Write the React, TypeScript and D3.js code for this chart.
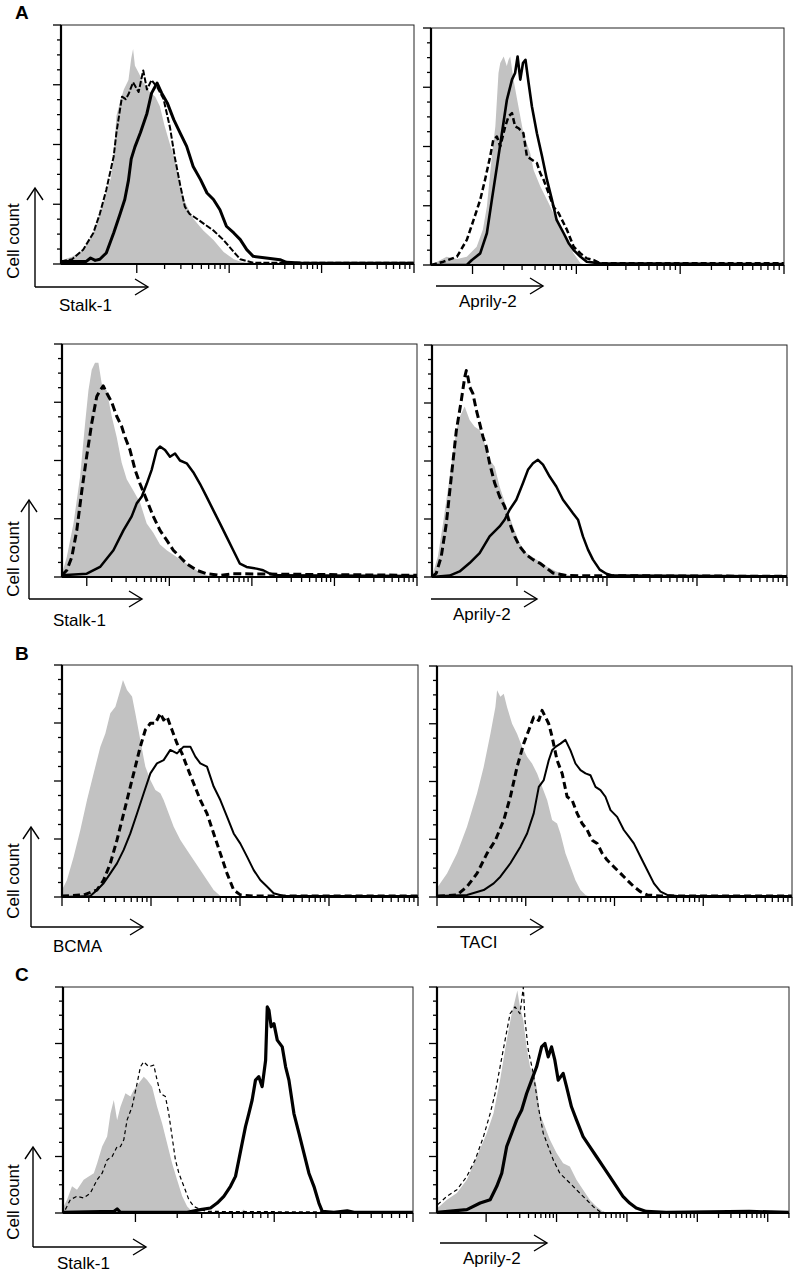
import React from "react";
import * as d3 from "d3";

type Pt = [number, number];
// Each point: [log10 fluorescence intensity, cell count as % of axis max]

// ---- Panel A, row 1 ----
const a1StalkGray: Pt[] = [[0.18,1.5],[0.3,3],[0.42,6],[0.53,13],[0.6,21],[0.67,30],[0.72,36],[0.75,45],[0.78,62],[0.82,68],[0.86,73],[0.91,77],[0.94,86],[0.96,90],[0.98,83],[1.02,80],[1.07,76],[1.14,72],[1.2,70],[1.25,66],[1.3,58],[1.36,50],[1.41,44],[1.47,33],[1.52,26],[1.61,19],[1.72,14],[1.83,10],[1.94,5],[2.05,2],[2.12,1],[2.26,0]];
const a1StalkDashed: Pt[] = [[0.18,1],[0.3,2],[0.42,6],[0.53,13],[0.6,21],[0.67,31],[0.75,45],[0.78,55],[0.84,70],[0.88,69],[0.91,71],[0.96,76],[1.02,72],[1.07,81],[1.11,73],[1.16,77],[1.22,74],[1.29,69],[1.36,57],[1.41,45],[1.47,33],[1.52,24],[1.57,21],[1.61,20],[1.72,17],[1.83,14],[1.94,10],[2.05,5],[2.12,2],[2.26,0.5],[4,0.5]];
const a1StalkSolid: Pt[] = [[0.18,1],[0.45,1],[0.5,2.5],[0.55,1.5],[0.6,2],[0.67,4.6],[0.75,13],[0.82,21],[0.87,27],[0.91,35],[0.94,44],[0.98,49],[1.04,55],[1.11,63],[1.16,71.5],[1.22,75.7],[1.27,71.5],[1.33,67.4],[1.4,60.4],[1.47,54.8],[1.54,49.2],[1.61,40.8],[1.69,35.3],[1.76,29.7],[1.83,27],[1.9,22.7],[1.97,15.8],[2.05,13],[2.12,10.2],[2.19,6],[2.26,3.2],[2.4,2.5],[2.55,1.8],[2.62,0.7],[2.77,0.4],[4,0.3]];

const a1AprilyGray: Pt[] = [[0.6,0],[0.75,3.5],[0.85,2.5],[0.945,3.5],[1.04,7.7],[1.1,15],[1.138,24.6],[1.186,45.8],[1.22,58.5],[1.25,81],[1.267,85.2],[1.3,88],[1.33,84],[1.347,86.6],[1.363,88],[1.395,78.2],[1.43,69.7],[1.46,62.7],[1.49,55.6],[1.556,47.2],[1.588,40.1],[1.653,33.1],[1.717,27.5],[1.78,21.8],[1.846,16],[1.91,10.6],[1.974,4.9],[2.04,0.7],[2.1,0]];
const a1AprilyDashed: Pt[] = [[0.6,0],[0.72,1.4],[0.85,3.5],[0.945,10.6],[1.01,19],[1.074,27.5],[1.12,35.9],[1.17,45.8],[1.2,52.8],[1.235,54.2],[1.267,50],[1.315,58.5],[1.347,62.7],[1.38,64.1],[1.41,58.5],[1.444,57.7],[1.49,55.6],[1.524,45.8],[1.572,44.4],[1.62,43],[1.653,38.7],[1.685,35.9],[1.733,30.3],[1.78,24.6],[1.83,21.8],[1.878,17.6],[1.91,14.8],[1.974,7.7],[2.04,4.9],[2.1,2.8],[2.167,2.1],[2.23,0.7],[4,0.7]];
const a1AprilySolid: Pt[] = [[0.6,0],[0.945,0],[0.994,2.1],[1.074,4.9],[1.138,13.4],[1.186,27.5],[1.235,41.5],[1.283,55.6],[1.331,69.7],[1.38,78.2],[1.41,81],[1.434,88],[1.46,78.2],[1.486,85.2],[1.51,86.6],[1.54,76.8],[1.572,66.9],[1.62,55.6],[1.67,45.8],[1.717,35.9],[1.765,27.5],[1.81,19],[1.878,13.4],[1.926,9.2],[1.974,6.3],[2.04,3.5],[2.1,1.4],[2.23,0.7],[4,0.4]];

// ---- Panel A, row 2 ----
const a2StalkGray: Pt[] = [[-0.3,1.4],[-0.242,8.6],[-0.161,23],[-0.081,43],[-0.02,66],[0.02,80],[0.06,89],[0.1,92],[0.141,92],[0.181,83],[0.242,80],[0.302,69],[0.363,60],[0.423,49],[0.484,42],[0.565,37],[0.645,32],[0.726,23],[0.806,19],[0.887,14],[0.968,11.5],[1.089,8.6],[1.21,5.7],[1.33,2.9],[1.452,0.7],[1.573,0]];
const a2StalkDashed: Pt[] = [[-0.302,0.7],[-0.242,2.9],[-0.181,8.6],[-0.121,20],[-0.06,37],[0,52],[0.06,66],[0.121,77.5],[0.161,80],[0.2,82],[0.242,79],[0.302,75],[0.363,69],[0.423,64.6],[0.464,60],[0.524,54.5],[0.585,46],[0.645,40],[0.726,33],[0.806,26],[0.887,20],[0.968,15.8],[1.048,11.5],[1.129,8.6],[1.21,5.7],[1.33,2.9],[1.452,1.4],[1.613,0.7],[1.774,1.4],[4,0.7]];
const a2StalkSolid: Pt[] = [[-0.3,0.7],[0,1.4],[0.161,4.3],[0.323,11.5],[0.444,20],[0.544,26],[0.605,31.6],[0.665,34.4],[0.726,40],[0.786,46],[0.847,54.5],[0.887,56],[0.948,54.5],[1.008,51.6],[1.069,53],[1.129,50],[1.21,48.8],[1.29,45],[1.371,40],[1.452,34.4],[1.532,28.7],[1.613,23],[1.694,17.2],[1.774,11.5],[1.855,5.7],[1.935,4.3],[2.056,3.6],[2.137,2.9],[2.218,1.4],[2.298,0.7],[4,0.4]];

const a2AprilyGray: Pt[] = [[0.067,1.7],[0.122,8.9],[0.178,23],[0.252,43],[0.326,63],[0.363,69],[0.419,73.5],[0.474,67.7],[0.53,64.8],[0.585,63.4],[0.641,57.7],[0.696,50.5],[0.752,47.6],[0.807,39],[0.881,30.4],[0.956,21.8],[1.03,14.6],[1.104,10.3],[1.215,7.5],[1.326,4.6],[1.437,2.4],[1.548,1],[1.696,0.3],[1.77,0]];
const a2AprilyDashed: Pt[] = [[0.056,0],[0.104,1.7],[0.159,8.9],[0.215,23],[0.27,43],[0.326,63],[0.381,76],[0.419,86],[0.437,89],[0.456,86],[0.474,82],[0.511,79],[0.548,72],[0.585,66.3],[0.622,60.5],[0.659,56.2],[0.696,49],[0.752,40.5],[0.807,34.7],[0.863,30.4],[0.919,23.2],[0.974,17.5],[1.03,13.2],[1.104,9.6],[1.178,7.5],[1.252,6],[1.326,3.9],[1.4,1.7],[1.548,0.6],[4,0.3]];
const a2AprilySolid: Pt[] = [[0.056,0],[0.252,0.6],[0.363,2.4],[0.474,6],[0.585,10.3],[0.696,17.5],[0.807,21.8],[0.863,24.7],[0.919,29],[0.993,33.3],[1.067,40.5],[1.122,46.2],[1.178,49],[1.233,50.5],[1.289,48.4],[1.363,43.3],[1.437,39],[1.511,33.3],[1.567,30.4],[1.622,27.5],[1.678,24.7],[1.733,17.5],[1.789,11.8],[1.844,7.5],[1.919,3.2],[1.993,1.4],[2.067,0.6],[4,0.3]];

// ---- Panel B ----
const bBcmaGray: Pt[] = [[0,3],[0.056,7.3],[0.131,17.4],[0.206,28.9],[0.281,41.8],[0.356,53.3],[0.431,64.8],[0.487,70.5],[0.543,79.2],[0.6,82],[0.655,89.2],[0.685,93.5],[0.73,89.2],[0.787,86.4],[0.824,79.2],[0.88,67.7],[0.936,56.2],[0.993,50.4],[1.049,46.1],[1.105,44.7],[1.142,41.8],[1.199,36],[1.255,30.3],[1.33,24.6],[1.404,20.3],[1.479,15.9],[1.554,11.6],[1.629,7.3],[1.704,3],[1.779,0.4],[1.854,0]];
const bBcmaDashed: Pt[] = [[0,0.4],[0.243,0.9],[0.393,3],[0.468,7.3],[0.543,14.5],[0.618,24.6],[0.693,36],[0.768,47.6],[0.824,56.2],[0.88,64.8],[0.936,72],[0.993,74.9],[1.049,74.9],[1.105,79.2],[1.142,76.3],[1.18,77.7],[1.236,72],[1.292,66.2],[1.348,61.9],[1.404,56.2],[1.479,49],[1.554,41.8],[1.629,36],[1.704,27.4],[1.779,18.8],[1.854,10.2],[1.929,3],[2.004,0.9],[2.154,0.4],[4,0.4]];
const bBcmaSolid: Pt[] = [[0,0],[0.318,0.4],[0.393,3],[0.468,5.9],[0.543,10.2],[0.618,14.5],[0.693,20.3],[0.768,27.4],[0.843,36],[0.918,44.7],[0.993,53.3],[1.067,57.6],[1.142,59],[1.217,63.4],[1.292,61.9],[1.367,64.8],[1.442,64.8],[1.498,60.5],[1.554,57.6],[1.629,56.2],[1.704,47.6],[1.779,41.8],[1.854,34.6],[1.929,27.4],[2.004,23],[2.079,17.4],[2.154,11.6],[2.228,7.3],[2.303,4.5],[2.378,1.6],[2.49,0.4],[4,0.4]];

const bTaciGray: Pt[] = [[0.011,4.5],[0.113,10.2],[0.226,18.9],[0.338,30.4],[0.451,44.8],[0.526,56.3],[0.602,70.7],[0.658,82.3],[0.677,89.5],[0.714,86.7],[0.752,88],[0.789,82.3],[0.846,75],[0.902,70.7],[0.959,65],[1.015,60.7],[1.071,57.8],[1.128,53.5],[1.184,47.7],[1.241,42],[1.297,33.3],[1.353,31.8],[1.391,27.5],[1.447,18.9],[1.504,13.1],[1.56,7.3],[1.617,3],[1.673,0.9],[1.729,0]];
const bTaciDashed: Pt[] = [[0.011,0.4],[0.226,0.9],[0.338,4.5],[0.451,10.2],[0.564,18.9],[0.658,24.6],[0.752,33.3],[0.827,43.4],[0.902,56.3],[0.977,66.4],[1.034,72.2],[1.09,77.9],[1.147,76.4],[1.184,80.8],[1.222,77.9],[1.259,75],[1.297,69.3],[1.353,59.2],[1.41,53.5],[1.466,43.4],[1.523,41.9],[1.579,36.2],[1.635,31.8],[1.692,29],[1.748,24.6],[1.805,23.2],[1.861,18.9],[1.917,16],[1.992,13.1],[2.068,10.2],[2.143,7.3],[2.218,4.5],[2.293,2.3],[2.368,0.9],[2.519,0.4],[4,0.4]];
const bTaciSolid: Pt[] = [[0.011,0.4],[0.338,0.9],[0.526,3],[0.639,5.9],[0.714,8.8],[0.827,14.6],[0.94,21.8],[1.015,27.5],[1.09,36.2],[1.147,47.7],[1.203,50.6],[1.259,59.2],[1.297,63.5],[1.335,65],[1.391,66.4],[1.447,68],[1.504,63.5],[1.56,57.8],[1.617,54.9],[1.673,53.5],[1.729,52.7],[1.786,47.7],[1.842,46.3],[1.898,43.4],[1.955,37.6],[2.03,34.7],[2.105,29],[2.162,26.1],[2.218,23.2],[2.293,17.4],[2.368,11.7],[2.444,5.9],[2.519,2.3],[2.594,0.9],[2.707,0.4],[4,0.4]];

// ---- Panel C ----
const cStalkGray: Pt[] = [[0.483,2.9],[0.507,5.9],[0.543,11.8],[0.579,10.3],[0.627,14.7],[0.663,16.2],[0.7,17.6],[0.724,22],[0.76,29.4],[0.796,33.8],[0.82,44],[0.844,50],[0.868,41],[0.892,47],[0.928,53],[0.964,51.5],[0.988,54.4],[1.024,57.4],[1.06,60.3],[1.084,58.8],[1.12,55.9],[1.156,47],[1.192,39.7],[1.228,30.9],[1.264,22],[1.3,14.7],[1.337,7.4],[1.373,2.9],[1.409,0.7],[1.445,0],[1.75,0],[1.78,1.5],[1.81,0],[3,0]];
const cStalkDashed: Pt[] = [[0.495,1.5],[0.531,5.9],[0.579,7.4],[0.627,6.6],[0.675,8.8],[0.724,14.7],[0.76,17.6],[0.796,23.5],[0.832,25],[0.868,29.4],[0.892,29.4],[0.916,32.4],[0.94,41.2],[0.976,47],[1.012,57.4],[1.036,64.7],[1.06,66.9],[1.096,64.7],[1.132,65.4],[1.156,58.8],[1.18,53],[1.216,51.5],[1.24,44],[1.264,33.8],[1.288,23.5],[1.313,17.6],[1.349,11.8],[1.385,5.9],[1.421,2.9],[1.469,1.5],[1.517,0.7],[3,0.3]];
const cStalkSolid: Pt[] = [[0.478,0.3],[0.844,0.7],[0.868,1.8],[0.892,0.3],[1.373,0.3],[1.469,1.5],[1.541,2.2],[1.589,4.4],[1.637,7.4],[1.685,11.8],[1.721,16.2],[1.745,23.5],[1.769,30.9],[1.793,38.2],[1.817,44],[1.841,50],[1.865,58.8],[1.889,60.3],[1.913,55.9],[1.938,67.6],[1.95,91.2],[1.962,89.7],[1.978,82.4],[1.998,83.8],[2.022,76.5],[2.058,73.5],[2.082,64.7],[2.106,58.8],[2.142,44],[2.178,35.3],[2.214,26.5],[2.25,17.6],[2.286,11.8],[2.322,4.4],[2.346,0.7],[2.43,0.3],[2.526,1],[2.575,0.3],[3,0.3]];

const cAprilyGray: Pt[] = [[0.311,2.2],[0.443,5.9],[0.585,8.8],[0.726,14.7],[0.868,25],[1.009,35.3],[1.104,44],[1.198,58.8],[1.292,76.5],[1.363,88.2],[1.41,94.1],[1.443,98.5],[1.481,91.2],[1.528,85.3],[1.575,73.5],[1.623,64.7],[1.67,61.8],[1.717,55.9],[1.764,44],[1.835,38.2],[1.906,32.4],[2.0,26.5],[2.094,22],[2.189,20.6],[2.283,14.7],[2.377,10.3],[2.472,5.9],[2.566,2.9],[2.66,0.7],[2.755,0]];
const cAprilyDashed: Pt[] = [[0.311,3.7],[0.443,7.4],[0.585,10.3],[0.726,16.2],[0.844,23.5],[0.962,33.8],[1.057,44],[1.127,52.9],[1.198,64.7],[1.269,76.5],[1.34,88.2],[1.41,91.2],[1.481,88.2],[1.528,100],[1.552,85.3],[1.599,72],[1.67,61.8],[1.741,47],[1.811,35.3],[1.882,29.4],[1.953,23.5],[2.047,17.6],[2.142,14.7],[2.236,11.8],[2.33,8.8],[2.425,5.9],[2.519,2.9],[2.613,0.7],[2.708,0],[5.3,0]];
const cAprilySolid: Pt[] = [[0.302,0.3],[0.726,1.5],[0.915,4.4],[1.057,5.9],[1.151,11.8],[1.222,17.6],[1.292,29.4],[1.363,35.3],[1.434,41.2],[1.505,45.6],[1.575,52.9],[1.646,58.8],[1.717,64.7],[1.788,73.5],[1.835,75],[1.882,69.1],[1.929,73.5],[1.976,67.6],[2.024,58.8],[2.094,61.8],[2.142,55.9],[2.212,47],[2.283,41.2],[2.377,33.8],[2.472,29.4],[2.566,25],[2.66,20.6],[2.755,16.2],[2.849,11.8],[2.943,7.4],[3.038,4.4],[3.132,2.2],[3.274,0.7],[3.557,0.3],[4.736,0.7],[5.3,0.3]];

const panelLetters = ["A", "B", "C"];
const xLabels = ["Stalk-1", "Aprily-2", "Stalk-1", "Aprily-2", "BCMA", "TACI", "Stalk-1", "Aprily-2"];
const yLabel = "Cell count";
const yMax = 100;

const FONT = "'Liberation Sans', Arial, Helvetica, sans-serif";

interface PanelCfg {
  box: [number, number, number, number]; // left, top, right, bottom
  xDomain: [number, number];
  gray: Pt[]; dashed: Pt[]; solid: Pt[];
  dashW: number; dashArr: string; solidW: number;
  label: string; labelX: number; labelY: number;
  arrowY: number; arrowX0: number; arrowX1: number;
  vArrow?: { x: number; tip: number; textY: number };
}

const panels: PanelCfg[] = [
  { box: [61, 25, 414, 264], xDomain: [0.18, 4], gray: a1StalkGray, dashed: a1StalkDashed, solid: a1StalkSolid, dashW: 2, dashArr: "6,2", solidW: 3,
    label: xLabels[0], labelX: 59, labelY: 311, arrowY: 287, arrowX0: 35, arrowX1: 148, vArrow: { x: 35, tip: 188, textY: 241 } },
  { box: [431, 28, 784, 265], xDomain: [0.6, 4], gray: a1AprilyGray, dashed: a1AprilyDashed, solid: a1AprilySolid, dashW: 2.5, dashArr: "6,3", solidW: 2.6,
    label: xLabels[1], labelX: 459, labelY: 307, arrowY: 286, arrowX0: 436, arrowX1: 543 },
  { box: [62, 344, 417, 577], xDomain: [-0.3, 4], gray: a2StalkGray, dashed: a2StalkDashed, solid: a2StalkSolid, dashW: 3, dashArr: "8,4", solidW: 2.5,
    label: xLabels[2], labelX: 53, labelY: 626, arrowY: 599, arrowX0: 29, arrowX1: 142, vArrow: { x: 29, tip: 500, textY: 559 } },
  { box: [432, 345, 787, 577], xDomain: [0.056, 4], gray: a2AprilyGray, dashed: a2AprilyDashed, solid: a2AprilySolid, dashW: 3, dashArr: "8,4", solidW: 2.5,
    label: xLabels[3], labelX: 453, labelY: 620, arrowY: 599, arrowX0: 431, arrowX1: 537 },
  { box: [62, 665, 418, 897], xDomain: [0, 4], gray: bBcmaGray, dashed: bBcmaDashed, solid: bBcmaSolid, dashW: 3, dashArr: "7,4", solidW: 2,
    label: xLabels[4], labelX: 53, labelY: 952, arrowY: 927, arrowX0: 31, arrowX1: 143, vArrow: { x: 31, tip: 827, textY: 881 } },
  { box: [437, 666, 792, 897], xDomain: [0, 4], gray: bTaciGray, dashed: bTaciDashed, solid: bTaciSolid, dashW: 3, dashArr: "7,4", solidW: 2,
    label: xLabels[5], labelX: 460, labelY: 948, arrowY: 927, arrowX0: 437, arrowX1: 543 },
  { box: [63, 987, 413, 1213], xDomain: [0.478, 3], gray: cStalkGray, dashed: cStalkDashed, solid: cStalkSolid, dashW: 1.2, dashArr: "4,3", solidW: 3.2,
    label: xLabels[6], labelX: 57, labelY: 1269, arrowY: 1247, arrowX0: 33, arrowX1: 146, vArrow: { x: 33, tip: 1147, textY: 1202 } },
  { box: [437, 987, 789, 1213], xDomain: [0.302, 5.302], gray: cAprilyGray, dashed: cAprilyDashed, solid: cAprilySolid, dashW: 1.2, dashArr: "4,3", solidW: 3.2,
    label: xLabels[7], labelX: 463, labelY: 1264, arrowY: 1243, arrowX0: 440, arrowX1: 547 },
];

const letterPos = [
  { x: 15, y: 19 },
  { x: 15, y: 660 },
  { x: 15, y: 981 },
];

function logTicks(lo: number, hi: number) {
  const out: { v: number; major: boolean }[] = [];
  const start = Math.ceil(lo - 1e-6);
  for (let k = start; k <= Math.floor(hi + 1e-6); k++) {
    for (let m = 1; m <= 9; m++) {
      const v = k + Math.log10(m);
      if (v <= hi + 1e-6) out.push({ v, major: m === 1 });
    }
  }
  return out;
}

function Panel({ cfg, idx }: { cfg: PanelCfg; idx: number }) {
  const [l, t, r, b] = cfg.box;
  const x = d3.scaleLinear().domain(cfg.xDomain).range([l, r]);
  const y = d3.scaleLinear().domain([0, yMax]).range([b, t]);
  const area = d3.area<Pt>().x((d) => x(d[0])).y0(y(0)).y1((d) => y(d[1]));
  const line = d3.line<Pt>().x((d) => x(d[0])).y((d) => y(d[1]));
  const xt = logTicks(cfg.xDomain[0], cfg.xDomain[1]);
  const yt = d3.range(0, 17).map((i) => ({ v: (i * yMax) / 16, major: i % 4 === 0 }));
  const clipId = `clip${idx}`;
  return (
    <g>
      <defs>
        <clipPath id={clipId}>
          <rect x={l} y={t} width={r - l} height={b - t} />
        </clipPath>
      </defs>
      <g clipPath={`url(#${clipId})`}>
        <path d={area(cfg.gray) || ""} fill="#c2c2c2" />
        <path d={line(cfg.dashed) || ""} fill="none" stroke="#000" strokeWidth={cfg.dashW} strokeDasharray={cfg.dashArr} strokeLinejoin="round" />
        <path d={line(cfg.solid) || ""} fill="none" stroke="#000" strokeWidth={cfg.solidW} strokeLinejoin="round" />
      </g>
      <rect x={l} y={t} width={r - l} height={b - t} fill="none" stroke="#222" strokeWidth={1} />
      <line x1={l} x2={l} y1={t} y2={b} stroke="#000" strokeWidth={2.2} />
      <line x1={l} x2={r} y1={b} y2={b} stroke="#000" strokeWidth={2} />
      {xt.map((tk, i) => (
        <line key={`x${i}`} x1={x(tk.v)} x2={x(tk.v)} y1={b} y2={b + (tk.major ? 9 : 5)} stroke="#000" strokeWidth={1.3} />
      ))}
      {yt.map((tk, i) => (
        <line key={`y${i}`} x1={l} x2={l - (tk.major ? 8 : 4)} y1={y(tk.v)} y2={y(tk.v)} stroke="#000" strokeWidth={1.3} />
      ))}
      {/* x arrow */}
      <line x1={cfg.arrowX0} x2={cfg.arrowX1} y1={cfg.arrowY} y2={cfg.arrowY} stroke="#000" strokeWidth={1.4} />
      <path d={`M${cfg.arrowX1 - 13},${cfg.arrowY - 8}L${cfg.arrowX1},${cfg.arrowY}L${cfg.arrowX1 - 13},${cfg.arrowY + 8}`} fill="none" stroke="#000" strokeWidth={1.4} />
      <text x={cfg.labelX} y={cfg.labelY} fontFamily={FONT} fontSize={17} fill="#000">{cfg.label}</text>
      {cfg.vArrow && (
        <g>
          <line x1={cfg.vArrow.x} x2={cfg.vArrow.x} y1={cfg.arrowY} y2={cfg.vArrow.tip} stroke="#000" strokeWidth={1.4} />
          <path d={`M${cfg.vArrow.x - 8},${cfg.vArrow.tip + 12}L${cfg.vArrow.x},${cfg.vArrow.tip}L${cfg.vArrow.x + 8},${cfg.vArrow.tip + 12}`} fill="none" stroke="#000" strokeWidth={1.4} />
          <text transform={`translate(19,${cfg.vArrow.textY}) rotate(-90)`} textAnchor="middle" fontFamily={FONT} fontSize={17} fill="#000">{yLabel}</text>
        </g>
      )}
    </g>
  );
}

export default function App() {
  return (
    <svg width={802} height={1272} style={{ position: "absolute", left: 0, top: 0, display: "block", background: "#fff" }}>
      <rect x={0} y={0} width={802} height={1272} fill="#fff" />
      {panels.map((p, i) => (
        <Panel key={i} cfg={p} idx={i} />
      ))}
      {panelLetters.map((s, i) => (
        <text key={s} x={letterPos[i].x} y={letterPos[i].y} fontFamily={FONT} fontSize={19} fontWeight="bold" fill="#000">{s}</text>
      ))}
    </svg>
  );
}
